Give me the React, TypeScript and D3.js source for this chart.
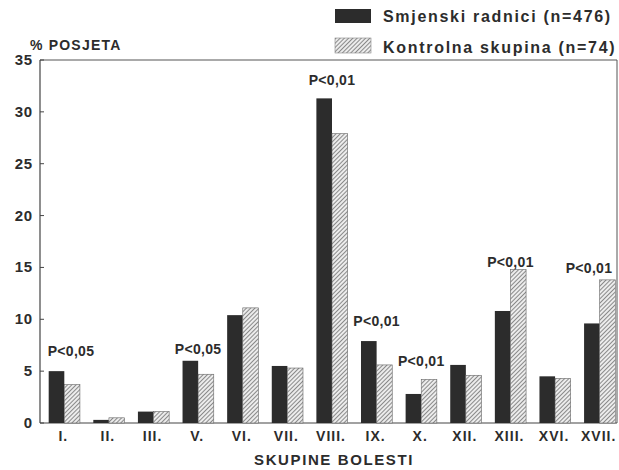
import React from 'react';
import * as d3 from 'd3';

const categories = ['I.', 'II.', 'III.', 'V.', 'VI.', 'VII.', 'VIII.', 'IX.', 'X.', 'XII.', 'XIII.', 'XVI.', 'XVII.'];
const shiftWorkers = [5.0, 0.3, 1.1, 6.0, 10.4, 5.5, 31.3, 7.9, 2.8, 5.6, 10.8, 4.5, 9.6];
const controlGroup = [3.7, 0.5, 1.1, 4.7, 11.1, 5.3, 27.9, 5.6, 4.2, 4.6, 14.8, 4.3, 13.8];
const seriesNames = ['Smjenski radnici (n=476)', 'Kontrolna skupina (n=74)'];
const yTicks = [0, 5, 10, 15, 20, 25, 30, 35];

// significance notes: group, text, level (in % units) of the text baseline
const noteCats = ['I.', 'V.', 'VIII.', 'IX.', 'X.', 'XIII.', 'XVII.'];
const noteTexts = ['P<0,05', 'P<0,05', 'P<0,01', 'P<0,01', 'P<0,01', 'P<0,01', 'P<0,01'];
const noteLevels = [6.45, 6.65, 32.6, 9.4, 5.5, 15.0, 14.5];

const W = 619;
const H = 470;
const left = 40;
const right = 617;
const top = 60;
const bottom = 423;
const ink = '#2c2c2c';
const font = '"Liberation Sans", Arial, sans-serif';

export default function App() {
  const x0 = d3.scaleBand<string>().domain(categories).range([42, 622]).paddingInner(0.3).paddingOuter(0.15);
  const x1 = d3.scaleBand<string>().domain(['a', 'b']).range([0, x0.bandwidth()]);
  const y = d3.scaleLinear().domain([0, 35]).range([bottom, top]);

  const rows = categories.map((c, i) => ({ c, a: shiftWorkers[i], b: controlGroup[i] }));

  return (
    <svg width={W} height={H} style={{ position: 'absolute', left: 0, top: 0, background: '#fff' }} fontFamily={font}>
      <defs>
        <pattern id="hatch" patternUnits="userSpaceOnUse" width="3" height="3" patternTransform="rotate(45)">
          <rect width="3" height="3" fill="#ececec" />
          <line x1="0" y1="0" x2="0" y2="3" stroke="#555" strokeWidth="1.3" />
        </pattern>
      </defs>

      {/* legend */}
      <rect x={335} y={9} width={36} height={14} fill={ink} />
      <text x={383} y={22} fontSize={16} fontWeight="bold" letterSpacing={1.7} fill={ink}>{seriesNames[0]}</text>
      <rect x={335} y={38} width={36} height={15} fill="url(#hatch)" stroke="#888" strokeWidth={0.6} />
      <text x={383} y={53} fontSize={16} fontWeight="bold" letterSpacing={1.7} fill={ink}>{seriesNames[1]}</text>

      <text x={30} y={50} fontSize={14} fontWeight="bold" letterSpacing={1.2} fill={ink}>% POSJETA</text>

      {/* frame */}
      <line x1={left} x2={right} y1={top} y2={top} stroke="#555" strokeWidth={1} />
      <line x1={right} x2={right} y1={top} y2={bottom} stroke="#555" strokeWidth={1} />
      <line x1={left} x2={left} y1={top} y2={bottom} stroke="#444" strokeWidth={1.2} />
      <line x1={left} x2={right} y1={bottom} y2={bottom} stroke="#444" strokeWidth={1.2} />

      {yTicks.map(t => (
        <g key={t}>
          <line x1={left} x2={left + 4} y1={y(t)} y2={y(t)} stroke="#444" />
          <text x={33} y={y(t) + 5} textAnchor="end" fontSize={15} fontWeight="bold" letterSpacing={0.8} fill={ink}>{t}</text>
        </g>
      ))}

      {rows.map(r => (
        <g key={r.c} transform={`translate(${x0(r.c)},0)`}>
          <rect x={x1('a')} y={y(r.a)} width={x1.bandwidth()} height={bottom - y(r.a)} fill={ink} />
          <rect x={x1('b')} y={y(r.b)} width={x1.bandwidth()} height={bottom - y(r.b)} fill="url(#hatch)" stroke="#666" strokeWidth={0.6} />
          <text x={x0.bandwidth() / 2 - 1} y={441} textAnchor="middle" fontSize={14} fontWeight="bold" letterSpacing={1} fill={ink}>{r.c}</text>
        </g>
      ))}

      {noteCats.map((c, i) => {
        const cx = (x0(c) as number) + x0.bandwidth() / 2;
        const half = 24;
        const tx = Math.max(Math.min(cx, 613 - half), 47 + half);
        return (
          <text key={c} x={tx} y={y(noteLevels[i])} textAnchor="middle" fontSize={14} fontWeight="bold" letterSpacing={0.3} fill={ink}>
            {noteTexts[i]}
          </text>
        );
      })}

      <text x={334} y={465} textAnchor="middle" fontSize={15} fontWeight="bold" letterSpacing={1.6} fill={ink}>SKUPINE BOLESTI</text>
    </svg>
  );
}
